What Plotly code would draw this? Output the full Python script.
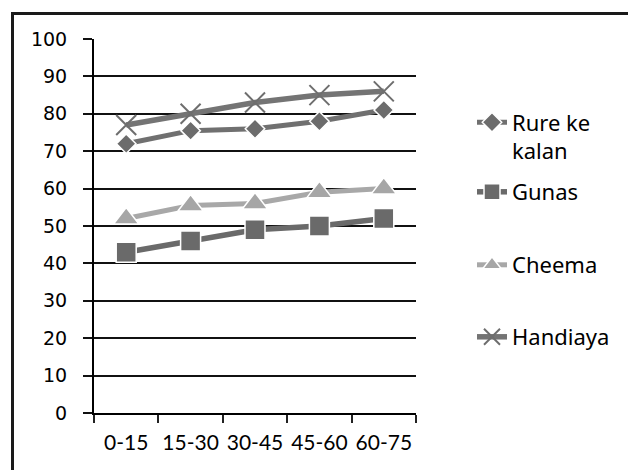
import plotly.graph_objects as go

categories = ["0-15", "15-30", "30-45", "45-60", "60-75"]
rure = [72, 75.5, 76, 78, 81]
gunas = [43, 46, 49, 50, 52]
cheema = [52, 55.5, 56, 59, 60]
handiaya = [77, 80, 83, 85, 86]
series_names = ["Rure ke<br>kalan", "Gunas", "Cheema", "Handiaya"]
y_ticks = [0, 10, 20, 30, 40, 50, 60, 70, 80, 90, 100]

OFF = 8  # page body margin
W, H = 636 - OFF, 470 - OFF
L, T = 94 - OFF, 39 - OFF
R = W - (416 - OFF)
B = H - (413 - OFF)
pw = W - L - R
ph = H - T - B

def px_y(screen_y):
    return (H - B - (screen_y - OFF)) / ph

def px_x(screen_x):
    return ((screen_x - OFF) - L) / pw

fig = go.Figure()
styles = [
    (rure, "#707070", 5, dict(symbol="diamond", size=15, color="#6c6c6c", line=dict(color="white", width=1.5))),
    (gunas, "#6a6a6a", 5.5, dict(symbol="square", size=20, color="#6a6a6a", line=dict(color="white", width=1.5))),
    (cheema, "#a8a8a8", 5, dict(symbol="triangle-up", size=22, color="#a6a6a6", line=dict(color="white", width=1.5))),
    (handiaya, "#747474", 5.5, dict(symbol="x-thin", size=20, color="#6e6e6e", line=dict(color="#6e6e6e", width=2))),
]
legend_ids = ["legend", "legend2", "legend3", "legend4"]
legend_centers = [137, 192, 265, 337]
for i, (vals, lc, lw, mk) in enumerate(styles):
    fig.add_trace(go.Scatter(
        x=categories, y=vals, name=series_names[i], mode="lines+markers",
        line=dict(color=lc, width=lw), marker=mk, legend=legend_ids[i],
    ))

fig.add_shape(type="rect", xref="paper", yref="paper",
              x0=px_x(12.5), x1=px_x(W + 40),
              y0=px_y(H + 40), y1=px_y(13.5),
              line=dict(color="#1a1a1a", width=3), layer="below")

legend_font = dict(family="Noto Sans", size=22, color="black")
legend_layout = {}
for lid, cy in zip(legend_ids, legend_centers):
    legend_layout[lid] = dict(
        x=px_x(472), xanchor="left", y=px_y(cy), yanchor="middle",
        valign="top", font=legend_font, bgcolor="rgba(0,0,0,0)",
    )

fig.update_layout(
    width=W, height=H,
    margin=dict(l=L, r=R, t=T, b=B),
    paper_bgcolor="white", plot_bgcolor="white",
    showlegend=True,
    xaxis=dict(
        type="category", range=[-0.5, 4.5], showgrid=False,
        showline=True, linecolor="black", linewidth=2,
        ticks="outside", tickson="boundaries", ticklen=8, tickwidth=2, tickcolor="#222",
        tickfont=dict(family="Lato", size=21, color="black"),
        tickangle=0, automargin=False, fixedrange=True, ticklabelstandoff=10,
    ),
    yaxis=dict(
        range=[0, 100], tickvals=y_ticks,
        showgrid=True, gridcolor="#111", gridwidth=1.6,
        showline=True, linecolor="black", linewidth=2,
        ticks="outside", ticklen=9, tickwidth=1.6, tickcolor="#111",
        tickfont=dict(family="DejaVu Sans", size=19, color="black"),
        ticklabelstandoff=12, zeroline=False, automargin=False,
    ),
    **legend_layout,
)
fig.write_html("out.html")
